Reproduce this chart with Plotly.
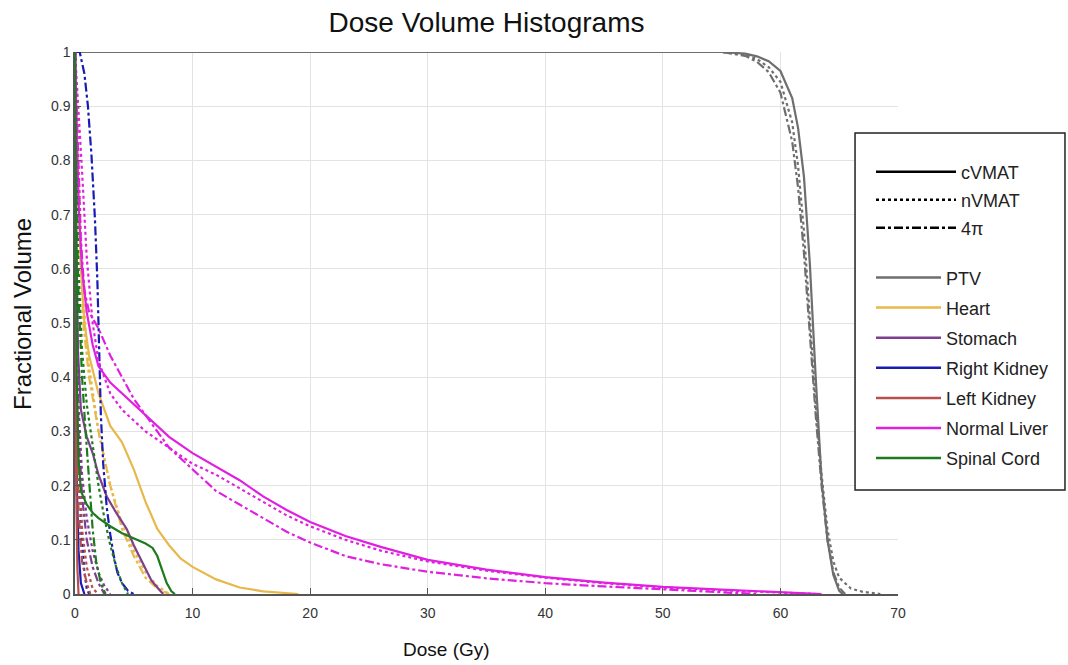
import plotly.graph_objects as go

# ---------------- data (dose in Gy, fractional volume) ----------------
structures = ["PTV", "Heart", "Stomach", "Right Kidney", "Left Kidney", "Normal Liver", "Spinal Cord"]
techniques = ["cVMAT", "nVMAT", "4π"]

ptv_c_x = [0, 55, 57, 58, 59, 60, 61, 61.5, 62, 62.5, 63, 63.5, 64, 64.5, 65, 65.3]
ptv_c_y = [1, 1, 0.997, 0.992, 0.983, 0.965, 0.915, 0.86, 0.77, 0.61, 0.4, 0.21, 0.1, 0.035, 0.006, 0]
ptv_n_x = [0, 55, 57, 58, 59, 60, 61, 61.5, 62, 62.5, 63, 63.5, 64, 64.5, 65, 66, 67, 68.5]
ptv_n_y = [1, 1, 0.995, 0.987, 0.972, 0.945, 0.87, 0.79, 0.67, 0.51, 0.35, 0.22, 0.12, 0.06, 0.03, 0.01, 0.004, 0]
ptv_4_x = [0, 55, 57, 58, 59, 60, 61, 61.5, 62, 62.5, 63, 63.5, 64, 64.5, 65, 65.5]
ptv_4_y = [1, 1, 0.993, 0.982, 0.963, 0.925, 0.835, 0.75, 0.63, 0.48, 0.33, 0.2, 0.1, 0.04, 0.012, 0]

heart_c_x = [0, 0.2, 0.5, 0.8, 1.2, 2, 3, 4, 5, 6, 7, 8, 9, 10, 12, 14, 16, 19]
heart_c_y = [1, 0.8, 0.6, 0.5, 0.44, 0.37, 0.31, 0.28, 0.23, 0.17, 0.12, 0.09, 0.065, 0.05, 0.027, 0.012, 0.005, 0]
heart_n_x = [0, 0.3, 0.6, 1, 1.5, 2, 3, 4, 5, 6, 7, 8]
heart_n_y = [1, 0.8, 0.6, 0.45, 0.37, 0.3, 0.2, 0.13, 0.08, 0.04, 0.015, 0]
heart_4_x = [0, 0.3, 0.7, 1.2, 2, 3, 4, 5, 6, 7, 8]
heart_4_y = [1, 0.75, 0.5, 0.4, 0.3, 0.2, 0.12, 0.07, 0.03, 0.01, 0]

stom_c_x = [0, 0.1, 0.25, 0.5, 1, 1.5, 2, 2.7, 3.5, 4.4, 5, 5.5, 6, 6.5, 7, 7.5]
stom_c_y = [1, 0.7, 0.45, 0.34, 0.29, 0.26, 0.22, 0.18, 0.15, 0.12, 0.09, 0.068, 0.045, 0.025, 0.012, 0]
stom_n_x = [0, 0.1, 0.3, 0.6, 1, 1.5, 2, 2.5, 3]
stom_n_y = [1, 0.6, 0.35, 0.22, 0.14, 0.08, 0.04, 0.015, 0]
stom_4_x = [0, 0.1, 0.3, 0.6, 1, 1.5, 2, 2.5]
stom_4_y = [1, 0.55, 0.3, 0.18, 0.1, 0.05, 0.02, 0]

rkid_c_x = [0, 0.05, 0.15, 0.3, 0.5, 0.8]
rkid_c_y = [1, 0.5, 0.2, 0.08, 0.02, 0]
rkid_n_x = [0, 0.1, 0.2, 0.4, 0.6, 0.8, 1, 1.2]
rkid_n_y = [1, 0.6, 0.35, 0.2, 0.1, 0.04, 0.01, 0]
rkid_4_x = [0, 0.4, 0.8, 1.1, 1.4, 1.7, 1.9, 2.0, 2.1, 2.2, 2.4, 2.7, 3, 3.3, 3.6, 4, 4.5, 5]
rkid_4_y = [1, 1, 0.96, 0.9, 0.81, 0.69, 0.58, 0.5, 0.4, 0.33, 0.24, 0.16, 0.11, 0.07, 0.04, 0.02, 0.006, 0]

lkid_c_x = [0, 0.05, 0.1, 0.2, 0.3]
lkid_c_y = [1, 0.5, 0.2, 0.05, 0]
lkid_n_x = [0, 0.1, 0.3, 0.6, 1, 1.5, 2]
lkid_n_y = [1, 0.5, 0.25, 0.12, 0.05, 0.01, 0]
lkid_4_x = [0, 0.1, 0.3, 0.6, 1, 1.3]
lkid_4_y = [1, 0.4, 0.15, 0.06, 0.02, 0]

liver_c_x = [0, 0.1, 0.3, 0.6, 1, 1.5, 2, 3, 4, 5, 6, 7, 8, 10, 12, 14, 16, 18, 20, 23, 26, 30, 35, 40, 45, 50, 55, 60, 63.5]
liver_c_y = [1, 0.9, 0.72, 0.6, 0.52, 0.46, 0.42, 0.39, 0.37, 0.35, 0.33, 0.31, 0.29, 0.26, 0.235, 0.21, 0.18, 0.155, 0.133, 0.107, 0.087, 0.063, 0.045, 0.031, 0.021, 0.013, 0.008, 0.004, 0]
liver_n_x = [0, 0.3, 0.6, 1, 1.5, 2, 3, 4, 5, 6, 8, 10, 12, 14, 16, 18, 20, 23, 26, 30, 35, 40, 45, 50, 55, 60, 63]
liver_n_y = [1, 0.9, 0.78, 0.62, 0.5, 0.43, 0.37, 0.34, 0.32, 0.3, 0.27, 0.24, 0.22, 0.195, 0.17, 0.145, 0.125, 0.1, 0.08, 0.06, 0.043, 0.03, 0.02, 0.012, 0.007, 0.003, 0]
liver_4_x = [0, 0.2, 0.5, 0.8, 1.2, 2, 3, 4, 5, 6, 7, 8, 10, 12, 14, 16, 18, 20, 23, 26, 30, 35, 40, 45, 50, 55, 58]
liver_4_y = [1, 0.85, 0.65, 0.56, 0.52, 0.49, 0.44, 0.4, 0.36, 0.33, 0.3, 0.27, 0.23, 0.19, 0.165, 0.14, 0.115, 0.095, 0.07, 0.055, 0.041, 0.029, 0.02, 0.014, 0.009, 0.004, 0]

cord_c_x = [0, 0.05, 0.15, 0.3, 0.5, 1, 1.5, 2, 3, 4, 5, 6, 6.6, 7, 7.4, 7.8, 8.2, 8.5]
cord_c_y = [1, 0.7, 0.4, 0.25, 0.19, 0.165, 0.15, 0.14, 0.125, 0.112, 0.102, 0.093, 0.085, 0.07, 0.045, 0.02, 0.005, 0]
cord_n_x = [0, 0.1, 0.3, 0.6, 1, 1.5, 2, 2.5, 3, 3.5, 4, 4.5]
cord_n_y = [1, 0.8, 0.6, 0.45, 0.35, 0.27, 0.2, 0.14, 0.09, 0.05, 0.02, 0]
cord_4_x = [0, 0.1, 0.3, 0.6, 0.9, 1.2, 1.5, 1.8, 2.2, 2.6]
cord_4_y = [1, 0.75, 0.55, 0.4, 0.3, 0.2, 0.12, 0.06, 0.02, 0]

colors = ["#6e6e6e", "#e8b84a", "#7d3f8e", "#1a1ab4", "#b5504e", "#e020e0", "#1d7a1d"]
dashes = ["solid", "dot", "dashdot"]

series = [
    [(ptv_c_x, ptv_c_y), (ptv_n_x, ptv_n_y), (ptv_4_x, ptv_4_y)],
    [(heart_c_x, heart_c_y), (heart_n_x, heart_n_y), (heart_4_x, heart_4_y)],
    [(stom_c_x, stom_c_y), (stom_n_x, stom_n_y), (stom_4_x, stom_4_y)],
    [(rkid_c_x, rkid_c_y), (rkid_n_x, rkid_n_y), (rkid_4_x, rkid_4_y)],
    [(lkid_c_x, lkid_c_y), (lkid_n_x, lkid_n_y), (lkid_4_x, lkid_4_y)],
    [(liver_c_x, liver_c_y), (liver_n_x, liver_n_y), (liver_4_x, liver_4_y)],
    [(cord_c_x, cord_c_y), (cord_n_x, cord_n_y), (cord_4_x, cord_4_y)],
]

fig = go.Figure()

# data curves
for si, name in enumerate(structures):
    for ti, tech in enumerate(techniques):
        xs, ys = series[si][ti]
        fig.add_trace(go.Scatter(
            x=xs, y=ys, mode="lines", showlegend=False,
            name=f"{name} {tech}",
            line=dict(color=colors[si], dash=dashes[ti], width=2.2),
        ))

# legend section 1: line styles
for ti, tech in enumerate(techniques):
    fig.add_trace(go.Scatter(
        x=[None], y=[None], mode="lines", name=tech, legend="legend",
        legendgroup=f"style{ti}", line=dict(color="black", dash=dashes[ti], width=2.5),
    ))
# legend section 2: structures
for si, name in enumerate(structures):
    fig.add_trace(go.Scatter(
        x=[None], y=[None], mode="lines", name=name, legend="legend2",
        legendgroup=f"struct{si}", line=dict(color=colors[si], width=2.5),
    ))

legend_common = dict(
    xanchor="left", yanchor="top", bgcolor="rgba(0,0,0,0)", borderwidth=0,
    font=dict(size=18, color="#222222"), traceorder="grouped",
)

fig.update_layout(
    width=1068, height=665,
    margin=dict(l=75, r=170, t=52, b=71),
    paper_bgcolor="white", plot_bgcolor="white",
    font=dict(family="Liberation Sans, Arial, sans-serif", color="#222222"),
    title=dict(text="Dose Volume Histograms", x=0.5, xref="paper", xanchor="center",
               y=0.967, yanchor="middle", font=dict(size=28, color="#111111")),
    showlegend=True,
    legend=dict(x=0.9672, y=0.8125, itemwidth=80, tracegroupgap=1.5, **legend_common),
    legend2=dict(x=0.9672, y=0.6175, itemwidth=65, tracegroupgap=3.7, **legend_common),
    shapes=[dict(
        type="rect", xref="paper", yref="paper",
        x0=0.9478, x1=1.2029, y0=0.1919, y1=0.8506,
        line=dict(color="#222222", width=1.5), fillcolor="white", layer="above",
    )],
    xaxis=dict(
        range=[0, 70], dtick=10, tick0=0, automargin=False,
        showgrid=True, gridcolor="#e3e3e3", gridwidth=1,
        showline=True, linecolor="#555555", linewidth=1.5,
        ticks="inside", ticklen=6, tickcolor="#555555",
        tickfont=dict(size=14, color="#333333"), zeroline=False,
        ticklabelstandoff=5,
    ),
    yaxis=dict(
        range=[0, 1], dtick=0.1, tick0=0, automargin=False,
        showgrid=True, gridcolor="#e3e3e3", gridwidth=1,
        showline=True, linecolor="#555555", linewidth=1.5,
        ticks="inside", ticklen=6, tickcolor="#555555",
        tickfont=dict(size=14, color="#333333"), zeroline=False,
    ),
    annotations=[
        dict(text="Dose (Gy)", xref="paper", yref="paper", x=0.452, y=-0.103,
             xanchor="center", yanchor="middle", showarrow=False,
             font=dict(size=19, color="#111111")),
        dict(text="Fractional Volume", xref="paper", yref="paper", x=-0.0644, y=0.5166,
             xanchor="center", yanchor="middle", showarrow=False, textangle=-90,
             font=dict(size=24, color="#111111")),
    ],
)

fig.write_html("out.html")
